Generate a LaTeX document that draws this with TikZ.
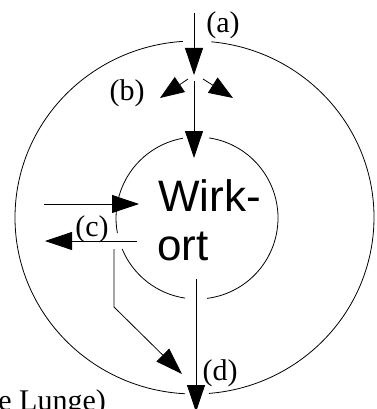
\documentclass[tikz,border=0pt]{standalone}
\usepackage{fontspec}
\setmainfont{Liberation Serif}
\newfontfamily\sansf{Liberation Sans}
\usetikzlibrary{arrows.meta}
\begin{document}
\begin{tikzpicture}[x=1pt,y=-1pt,line width=0.8pt,
  bigarrow/.style={-{Triangle[length=27pt,width=18pt]}},
  smallarrow/.style={-{Triangle[length=24pt,width=18pt]}},
  lab/.style={font=\fontsize{30}{30}\selectfont,inner sep=0pt,anchor=base},
  wirk/.style={font=\sansf\fontsize{44}{44}\selectfont,inner sep=0pt,anchor=base west}]
\useasboundingbox (0,0) rectangle (376,409);
\clip (0,0) rectangle (376,409);
% outer ellipse with gaps
\draw[shift={(194.5,217.5)}] (275.4:179.5 and 176.5) arc[start angle=275.4,end angle=445.4,x radius=179.5,y radius=176.5];
\draw[shift={(194.5,217.5)}] (93:179.5 and 176.5) arc[start angle=93,end angle=266.3,x radius=179.5,y radius=176.5];
% inner circle with gaps
\draw[shift={(197,218)}] (278.5:81) arc[start angle=278.5,end angle=442.9,radius=81];
\draw[shift={(197,218)}] (98.5:81) arc[start angle=98.5,end angle=157.5,radius=81];
\draw[shift={(197,218)}] (169.3:81) arc[start angle=169.3,end angle=260,radius=81];
% coordinates
\coordinate (a0) at (194,13);
\coordinate (a1) at (194,75);
\coordinate (b0) at (194,81);
\coordinate (b1) at (194,158);
\coordinate (bl0) at (188,79);
\coordinate (bl1) at (160,98);
\coordinate (br0) at (203,79);
\coordinate (br1) at (233,98);
\coordinate (c0) at (44,204);
\coordinate (c1) at (139,204);
\coordinate (c2) at (137,241);
\coordinate (c3) at (45,241);
\coordinate (d0) at (114,249);
\coordinate (d1) at (114,307);
\coordinate (d2) at (182,374);
\coordinate (e0) at (196,279);
\coordinate (e1) at (196,412);
% arrows
\draw[bigarrow] (a0) -- (a1);
\draw[bigarrow] (b0) -- (b1);
\draw[smallarrow] (bl0) -- (bl1);
\draw[smallarrow] (br0) -- (br1);
\draw[bigarrow] (c0) -- (c1);
\draw[bigarrow] (c2) -- (c3);
\draw[bigarrow] (d0) -- (d1) -- (d2);
\draw[bigarrow] (e0) -- (e1);
% labels
\node[lab] (la) at (223,33) {(a)};
\node[lab] (lb) at (127,100) {(b)};
\node[lab] (lc) at (92,236) {(c)};
\node[lab] (ld) at (220,380) {(d)};
\node[lab,anchor=base west] (lu) at (-2,410) {e Lunge)};
\node[wirk] (w1) at (158,211) {Wirk-};
\node[wirk] (w2) at (157,260) {ort};
\end{tikzpicture}
\end{document}
